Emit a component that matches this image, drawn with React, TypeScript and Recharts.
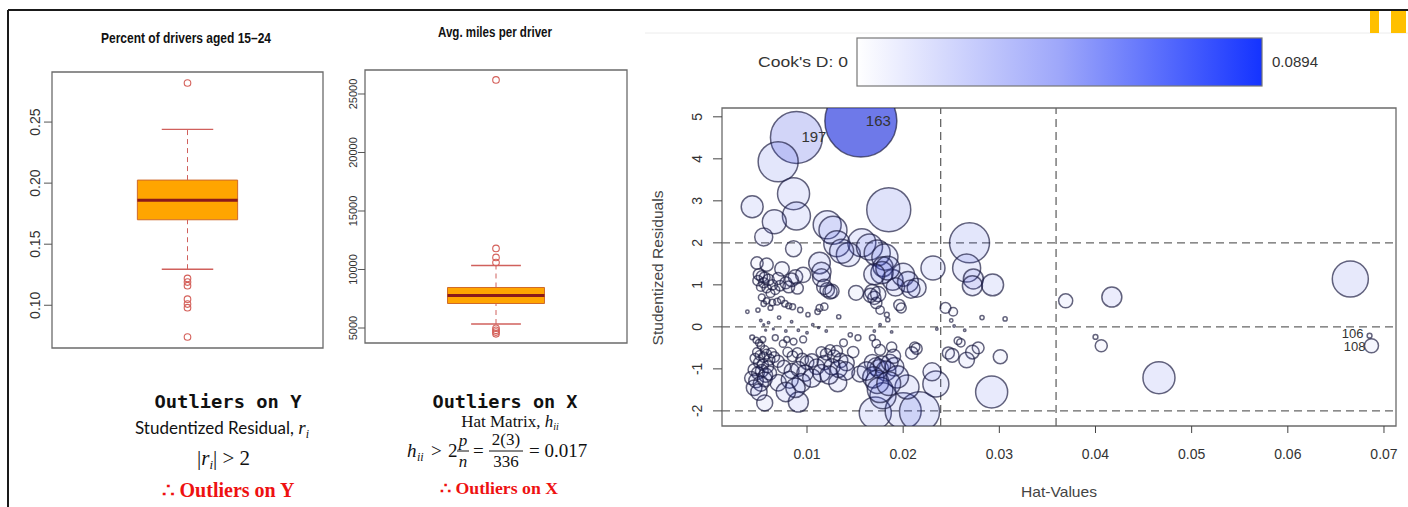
import React from 'react';
import {
  ScatterChart,
  Scatter,
  XAxis,
  YAxis,
  ZAxis,
  ReferenceArea,
  ReferenceLine,
} from 'recharts';

// box plot: percent of drivers aged 15-24  (lower whisker, Q1, median, Q3, upper whisker)
const youngBox = [0.1295, 0.17, 0.186, 0.2025, 0.244];
const youngOutliers = [0.282, 0.122, 0.119, 0.116, 0.105, 0.101, 0.098, 0.074];
const youngTicks = [0.1, 0.15, 0.2, 0.25];

// box plot: avg. miles per driver
const milesBox = [5340, 7094, 7778, 8462, 10340];
const milesOutliers = [26200, 11800, 11030, 10600, 4980, 4800, 4650, 4500];
const milesTicks = [5000, 10000, 15000, 20000, 25000];

// influence plot
const hatTicks = [0.01, 0.02, 0.03, 0.04, 0.05, 0.06, 0.07];
const residTicks = [-2, -1, 0, 1, 2, 3, 4, 5];
const residCutoffs = [-2, 0, 2];
const hatCutoffs = [0.0239, 0.0359];
const cookMax = 0.0894;
const leftLabels = ['106', '108'];

// [hat value, studentized residual, cook's D, label]
const influence: any[] = [
  [0.0156, 4.9, 0.0894, '163'],
  [0.0089, 4.51, 0.0466, '197'],
  [0.007, 3.93, 0.0276],
  [0.0086, 3.17, 0.0177],
  [0.0089, 2.64, 0.0135],
  [0.0043, 2.86, 0.0083],
  [0.0066, 2.5, 0.0099],
  [0.0055, 2.14, 0.0056],
  [0.0086, 1.86, 0.0044],
  [0.0185, 2.79, 0.0334],
  [0.0121, 2.43, 0.0135],
  [0.0127, 2.3, 0.0135],
  [0.0131, 1.98, 0.0117],
  [0.0157, 2.0, 0.0135],
  [0.0143, 1.72, 0.0099],
  [0.0136, 1.8, 0.0099],
  [0.0165, 1.9, 0.0117],
  [0.0173, 1.76, 0.0117],
  [0.0181, 1.66, 0.0117],
  [0.0179, 1.43, 0.0069],
  [0.0231, 1.4, 0.0099],
  [0.0269, 2.0, 0.0276],
  [0.0266, 1.4, 0.0135],
  [0.0273, 1.14, 0.0069],
  [0.0272, 0.98, 0.0069],
  [0.0293, 1.0, 0.0083],
  [0.0665, 1.14, 0.0224],
  [0.0369, 0.62, 0.0034],
  [0.0417, 0.71, 0.0069],
  [0.04, -0.24, 0.0004],
  [0.0406, -0.45, 0.0025],
  [0.0466, -1.21, 0.0177],
  [0.0685, -0.21, 0.0004, '106'],
  [0.0687, -0.45, 0.0034, '108'],
  [0.0171, -2.05, 0.0177],
  [0.02, -2.0, 0.0224],
  [0.0217, -2.02, 0.0276],
  [0.0179, -1.64, 0.0117],
  [0.0204, -1.43, 0.0099],
  [0.0234, -1.36, 0.0117],
  [0.023, -1.07, 0.0056],
  [0.0292, -1.55, 0.0177],
  [0.0056, -1.81, 0.0044],
  [0.0091, -1.79, 0.0069],
  [0.0132, -1.33, 0.0056],
  [0.0155, -1.12, 0.0044],
  [0.0301, -0.71, 0.0034],
  [0.0247, -0.62, 0.0025],
  // upper cluster, small hat values
  [0.0048, 1.52, 0.0026],
  [0.0058, 1.48, 0.003],
  [0.0074, 1.38, 0.0036],
  [0.005, 1.25, 0.0022],
  [0.0053, 1.2, 0.0022],
  [0.0056, 1.18, 0.002],
  [0.0049, 1.1, 0.0018],
  [0.0055, 1.05, 0.0018],
  [0.006, 1.12, 0.0022],
  [0.0064, 1.0, 0.0018],
  [0.0052, 0.95, 0.0013],
  [0.0058, 0.92, 0.0014],
  [0.0067, 0.88, 0.0014],
  [0.0072, 0.98, 0.0019],
  [0.007, 1.15, 0.0025],
  [0.0062, 0.8, 0.0013],
  [0.0078, 1.05, 0.0024],
  [0.0053, 0.7, 0.0008],
  [0.0058, 0.62, 0.0007],
  [0.0064, 0.58, 0.0007],
  [0.0069, 0.6, 0.0008],
  [0.0073, 0.64, 0.0008],
  [0.0077, 0.55, 0.0007],
  [0.0055, 0.55, 0.0005],
  [0.0081, 0.5, 0.0006],
  [0.0085, 0.48, 0.0006],
  [0.0062, 0.45, 0.0004],
  [0.0049, 0.4, 0.0003],
  [0.0038, 0.36, 0.0002],
  [0.0088, 1.19, 0.0036],
  [0.0096, 1.24, 0.004],
  [0.0084, 1.12, 0.0032],
  [0.0081, 0.95, 0.0024],
  [0.009, 0.92, 0.0024],
  [0.0093, 0.4, 0.0005],
  [0.0101, 0.29, 0.0003],
  [0.0111, 0.36, 0.0005],
  [0.0118, 0.48, 0.0009],
  [0.0113, 0.45, 0.0008],
  // around zero
  [0.0052, 0.15, 0.0001],
  [0.0055, 0.05, 0.00005],
  [0.0057, -0.08, 0.00005],
  [0.006, 0.1, 0.0001],
  [0.0065, -0.05, 0.00005],
  [0.0071, 0.22, 0.0002],
  [0.0078, -0.1, 0.0001],
  [0.0084, 0.12, 0.0001],
  [0.0091, -0.08, 0.0001],
  [0.01, -0.14, 0.0001],
  [0.0106, 0.05, 0.0001],
  [0.0112, -0.02, 0.00005],
  [0.012, -0.1, 0.0001],
  [0.0133, 0.24, 0.0003],
  [0.017, -0.1, 0.0001],
  [0.0176, 0.05, 0.0001],
  [0.0183, 0.29, 0.0004],
  [0.0184, 0.17, 0.0003],
  [0.0188, -0.12, 0.0001],
  [0.0235, -0.05, 0.0001],
  [0.025, 0.15, 0.0002],
  [0.0253, 0.02, 0.0001],
  [0.0282, 0.22, 0.0003],
  [0.0306, 0.19, 0.0003],
  [0.0264, -0.08, 0.0001],
  // lower cluster, small hat values
  [0.0043, -0.25, 0.0004],
  [0.0047, -0.32, 0.0006],
  [0.005, -0.38, 0.0008],
  [0.0052, -0.45, 0.0009],
  [0.0054, -0.3, 0.0006],
  [0.0056, -0.55, 0.0012],
  [0.0048, -0.6, 0.0013],
  [0.0051, -0.68, 0.0016],
  [0.0055, -0.72, 0.0018],
  [0.0058, -0.65, 0.0016],
  [0.0061, -0.78, 0.002],
  [0.0046, -0.75, 0.0017],
  [0.005, -0.85, 0.002],
  [0.0054, -0.9, 0.0022],
  [0.0059, -0.95, 0.0025],
  [0.0063, -0.62, 0.0016],
  [0.0067, -0.26, 0.0006],
  [0.0066, -0.72, 0.0019],
  [0.007, -0.82, 0.0025],
  [0.0045, -1.02, 0.0025],
  [0.0049, -1.1, 0.0028],
  [0.0053, -1.05, 0.0028],
  [0.0057, -1.15, 0.0034],
  [0.0042, -1.22, 0.003],
  [0.0047, -1.28, 0.0036],
  [0.0052, -1.35, 0.004],
  [0.0056, -1.25, 0.0038],
  [0.0061, -1.1, 0.0034],
  [0.0045, -1.45, 0.0042],
  [0.005, -1.55, 0.0046],
  [0.0075, -0.4, 0.0009],
  [0.0079, -0.3, 0.0006],
  [0.0086, -0.35, 0.0008],
  [0.0096, -0.3, 0.0008],
  [0.008, -0.6, 0.0016],
  [0.0085, -0.7, 0.002],
  [0.009, -0.62, 0.0018],
  [0.0095, -0.78, 0.0027],
  [0.01, -0.85, 0.0032],
  [0.0105, -0.8, 0.0031],
  [0.011, -0.95, 0.0042],
  [0.0076, -0.95, 0.003],
  [0.0084, -1.05, 0.0038],
  [0.0091, -1.0, 0.0038],
  [0.0098, -1.1, 0.0046],
  [0.007, -1.33, 0.0046],
  [0.0082, -1.26, 0.005],
  [0.0094, -1.33, 0.006],
  [0.0105, -1.22, 0.0058],
  [0.0088, -1.45, 0.0065],
  [0.0078, -1.55, 0.0065],
  // middle columns
  [0.0115, -0.6, 0.002],
  [0.012, -0.65, 0.0023],
  [0.0124, -0.55, 0.0018],
  [0.0128, -0.7, 0.0028],
  [0.0131, -0.58, 0.0022],
  [0.0135, -0.8, 0.0035],
  [0.0138, -0.38, 0.001],
  [0.0141, -0.86, 0.0042],
  [0.0118, -0.85, 0.0035],
  [0.0126, -0.95, 0.0045],
  [0.0133, -1.0, 0.005],
  [0.014, -1.05, 0.0058],
  [0.0115, -1.1, 0.0052],
  [0.0123, -1.15, 0.0058],
  [0.0145, -0.19, 0.0003],
  [0.0153, -0.26, 0.0006],
  [0.0148, -0.6, 0.0022],
  [0.0168, -0.26, 0.0006],
  [0.0172, -0.4, 0.0012],
  [0.0176, -0.55, 0.002],
  [0.0188, -0.48, 0.0018],
  [0.0168, -0.85, 0.0045],
  [0.0172, -0.95, 0.0055],
  [0.0175, -1.0, 0.006],
  [0.0178, -0.9, 0.0052],
  [0.0182, -1.05, 0.0068],
  [0.0186, -0.85, 0.0048],
  [0.0191, -0.95, 0.006],
  [0.0194, -1.19, 0.0085],
  [0.0169, -1.2, 0.0078],
  [0.0173, -1.31, 0.0092],
  [0.0176, -1.5, 0.0112],
  [0.0185, -1.35, 0.0098],
  [0.019, -0.7, 0.0034],
  [0.0162, -1.05, 0.006],
  [0.0212, -0.48, 0.0018],
  [0.0214, -0.52, 0.0021],
  [0.0209, -0.62, 0.0027],
  [0.0251, -0.68, 0.0032],
  [0.0257, -0.33, 0.001],
  [0.026, -0.38, 0.0012],
  [0.0272, -0.6, 0.0032],
  [0.0266, -0.79, 0.0042],
  [0.0278, -0.5, 0.0024],
  [0.0168, 0.83, 0.004],
  [0.017, 0.69, 0.003],
  [0.0172, 0.57, 0.0022],
  [0.0166, 0.75, 0.0034],
  [0.0174, 0.78, 0.004],
  [0.0196, 0.52, 0.0021],
  [0.0198, 0.45, 0.0017],
  [0.0176, 0.4, 0.0012],
  [0.0189, 1.12, 0.0075],
  [0.02, 1.24, 0.009],
  [0.0205, 1.07, 0.0075],
  [0.0214, 0.93, 0.0062],
  [0.0178, 1.29, 0.0085],
  [0.0184, 1.4, 0.0098],
  [0.017, 1.25, 0.0076],
  [0.0192, 0.95, 0.0058],
  [0.0208, 0.9, 0.0058],
  [0.0113, 1.52, 0.008],
  [0.0115, 1.31, 0.0064],
  [0.0115, 1.17, 0.0054],
  [0.0121, 0.88, 0.0036],
  [0.0124, 0.83, 0.0034],
  [0.0151, 0.81, 0.0038],
  [0.0126, 0.85, 0.0034],
  [0.0118, 0.95, 0.004],
  [0.0244, 0.45, 0.002],
  [0.0252, 0.36, 0.0013],
];

const points = influence.map(([hat, rstudent, cookd, id]) => ({ hat, rstudent, cookd, id }));
const labelled = points.filter((p) => p.id);

const sans = '"Liberation Sans", Arial, sans-serif';
const serif = '"Liberation Serif", "DejaVu Serif", serif';
const mono = '"DejaVu Sans Mono", monospace';

const RotTick = ({ x, y, payload, shift, size, fmt }: any) => (
  <text
    x={x + shift}
    y={y}
    transform={`rotate(-90 ${x + shift} ${y})`}
    textAnchor="middle"
    fontSize={size}
    fill="#333"
    fontFamily={sans}
  >
    {fmt(payload.value)}
  </text>
);

const OpenCircle = ({ cx, cy }: any) => (
  <circle cx={cx} cy={cy} r={3.3} fill="none" stroke="#d4605a" strokeWidth={1.1} />
);

const Bubble = (p: any) => {
  const r = p.width ? p.width / 2 : Math.sqrt(Math.max(p.size || 0, 0) / Math.PI);
  const t = p.payload.cookd / cookMax;
  const a = 0.1 * Math.min(1, t / 0.08) + 0.6 * Math.pow(t, 2.5);
  return (
    <circle
      cx={p.cx}
      cy={p.cy}
      r={Math.max(r, 0.9)}
      fill="#3040e0"
      fillOpacity={a}
      stroke="#1a1a40"
      strokeOpacity={0.68}
      strokeWidth={1.5}
    />
  );
};

const PointLabel = (p: any) => {
  const id = p.payload.id;
  const left = leftLabels.includes(id);
  return (
    <text
      x={left ? p.cx - 6 : p.cx + 5}
      y={p.cy + (id === '106' ? 2 : 5)}
      textAnchor={left ? 'end' : 'start'}
      fontSize={left ? 13 : 15}
      fill="#333"
      fontFamily={sans}
    >
      {id}
    </text>
  );
};

const BoxPlot = ({ box, outliers, ticks, domain, fmt, size, shift, tickSize, width, height, margin }: any) => {
  const [lo, q1, med, q3, hi] = box;
  const pts = outliers.map((v: number) => ({ x: 0.5, y: v }));
  const red = '#d0605c';
  return (
    <ScatterChart width={width} height={height} margin={margin}>
      <XAxis type="number" dataKey="x" domain={[0, 1]} hide />
      <YAxis
        type="number"
        dataKey="y"
        domain={domain}
        ticks={ticks}
        interval={0}
        width={30}
        axisLine={false}
        tickSize={tickSize}
        tickLine={{ stroke: '#555' }}
        tick={(p: any) => <RotTick {...p} shift={shift} size={size} fmt={fmt} />}
      />
      <ReferenceLine segment={[{ x: 0.5, y: q3 }, { x: 0.5, y: hi }]} stroke={red} strokeDasharray="5 4" />
      <ReferenceLine segment={[{ x: 0.5, y: lo }, { x: 0.5, y: q1 }]} stroke={red} strokeDasharray="5 4" />
      <ReferenceLine segment={[{ x: 0.405, y: hi }, { x: 0.595, y: hi }]} stroke={red} strokeWidth={1.3} />
      <ReferenceLine segment={[{ x: 0.405, y: lo }, { x: 0.595, y: lo }]} stroke={red} strokeWidth={1.3} />
      <ReferenceArea x1={0.315} x2={0.685} y1={q1} y2={q3} fill="#ffa500" fillOpacity={1} stroke="#cf6a2a" strokeWidth={1} />
      <ReferenceLine segment={[{ x: 0.315, y: med }, { x: 0.685, y: med }]} stroke="#8b1a1a" strokeWidth={3} />
      <Scatter data={pts} shape={OpenCircle} isAnimationActive={false} />
      <ReferenceArea
        x1={0}
        x2={1}
        y1={domain[0]}
        y2={domain[1]}
        fill="none"
        stroke="#6b6b6b"
        strokeWidth={1.3}
        ifOverflow="visible"
      />
    </ScatterChart>
  );
};

const InfluencePlot = () => (
  <ScatterChart width={768} height={407} margin={{ top: 8, right: 12, bottom: 31, left: 12 }}>
    <XAxis
      type="number"
      dataKey="hat"
      domain={[0.00116, 0.07125]}
      ticks={hatTicks}
      interval={0}
      allowDataOverflow
      height={50}
      axisLine={false}
      tickSize={7}
      tickMargin={16}
      tickLine={{ stroke: '#444' }}
      tick={{ fontSize: 14, fill: '#333', fontFamily: sans }}
      tickFormatter={(v: number) => v.toFixed(2)}
    />
    <YAxis
      type="number"
      dataKey="rstudent"
      domain={[-2.36, 5.21]}
      ticks={residTicks}
      interval={0}
      allowDataOverflow
      width={70}
      axisLine={false}
      tickSize={9}
      tickLine={{ stroke: '#444' }}
      tick={(p: any) => <RotTick {...p} shift={-9} size={14} fmt={(v: number) => String(v)} />}
    />
    <ZAxis type="number" dataKey="cookd" domain={[0, cookMax]} range={[0, Math.PI * 36 * 36]} />
    {residCutoffs.map((v) => (
      <ReferenceLine key={'r' + v} y={v} stroke="#666" strokeWidth={1.3} strokeDasharray="8 5" />
    ))}
    {hatCutoffs.map((v) => (
      <ReferenceLine key={'h' + v} x={v} stroke="#666" strokeWidth={1.3} strokeDasharray="8 5" />
    ))}
    <Scatter data={points} shape={Bubble} isAnimationActive={false} />
    <Scatter data={labelled} shape={PointLabel} isAnimationActive={false} />
    <ReferenceArea
      x1={0.00116}
      x2={0.07125}
      y1={-2.36}
      y2={5.21}
      fill="none"
      stroke="#6b6b6b"
      strokeWidth={1.3}
      ifOverflow="visible"
    />
  </ScatterChart>
);

const App = () => (
  <div style={{ position: 'absolute', left: 0, top: 0, width: 1408, height: 507, background: '#fff', fontFamily: sans }}>
    <div style={{ position: 'absolute', left: 0, top: 0 }}>
      <BoxPlot
        box={youngBox}
        outliers={youngOutliers}
        ticks={youngTicks}
        domain={[0.065, 0.291]}
        fmt={(v: number) => v.toFixed(2)}
        size={14}
        shift={-2}
        tickSize={8}
        width={330}
        height={360}
        margin={{ top: 72, right: 7, bottom: 12, left: 22 }}
      />
    </div>
    <div style={{ position: 'absolute', left: 320, top: 0 }}>
      <BoxPlot
        box={milesBox}
        outliers={milesOutliers}
        ticks={milesTicks}
        domain={[3718, 27051]}
        fmt={(v: number) => String(v)}
        size={11}
        shift={1}
        tickSize={7}
        width={320}
        height={360}
        margin={{ top: 70, right: 13, bottom: 17, left: 15 }}
      />
    </div>
    <div style={{ position: 'absolute', left: 640, top: 100 }}>
      <InfluencePlot />
    </div>
    <svg width={1408} height={507} style={{ position: 'absolute', left: 0, top: 0, pointerEvents: 'none' }}>
      <defs>
        <linearGradient id="cookGrad" x1="0" x2="1" y1="0" y2="0">
          <stop offset="0" stopColor="#ffffff" />
          <stop offset="0.5" stopColor="#9ea7fa" />
          <stop offset="1" stopColor="#1433ff" />
        </linearGradient>
      </defs>
      <line x1={8} y1={10} x2={1408} y2={10} stroke="#1a1a1a" strokeWidth={2} />
      <line x1={8} y1={10} x2={8} y2={507} stroke="#1a1a1a" strokeWidth={2} />
      <line x1={645} y1={33} x2={1408} y2={33} stroke="#ececec" strokeWidth={1} />
      <rect x={1370} y={11} width={9} height={22} fill="#ffc000" />
      <rect x={1391} y={11} width={15} height={22} fill="#ffc000" />

      <text x={186} y={43} textAnchor="middle" fontFamily={sans} fontWeight="bold" fontSize={14} textLength={170} lengthAdjust="spacingAndGlyphs" fill="#111">
        Percent of drivers aged 15–24
      </text>
      <text x={495} y={37} textAnchor="middle" fontFamily={sans} fontWeight="bold" fontSize={14} textLength={114} lengthAdjust="spacingAndGlyphs" fill="#111">
        Avg. miles per driver
      </text>

      <rect x={857} y={38} width={405} height={48} fill="url(#cookGrad)" stroke="#777" strokeWidth={1.2} />
      <text x={848} y={67} textAnchor="end" fontFamily={sans} fontSize={14} textLength={90} lengthAdjust="spacingAndGlyphs" fill="#333">
        Cook's D: 0
      </text>
      <text x={1272} y={67} fontFamily={sans} fontSize={14} textLength={46} lengthAdjust="spacingAndGlyphs" fill="#333">
        0.0894
      </text>

      <text x={663} y={268} transform="rotate(-90 663 268)" textAnchor="middle" fontFamily={sans} fontSize={15} textLength={155} lengthAdjust="spacingAndGlyphs" fill="#444">
        Studentized Residuals
      </text>
      <text x={1021} y={497} fontFamily={sans} fontSize={15} textLength={76} lengthAdjust="spacingAndGlyphs" fill="#444">
        Hat-Values
      </text>

      <text x={228} y={408} textAnchor="middle" fontFamily={mono} fontWeight="bold" fontSize={18} textLength={147} lengthAdjust="spacingAndGlyphs" fill="#111">
        Outliers on Y
      </text>
      <text x={222} y={434} textAnchor="middle" fontFamily="Lato, sans-serif" fontSize={17} fill="#111">
        Studentized Residual,{' '}
        <tspan fontFamily={serif} fontStyle="italic" fontSize={19}>r</tspan>
        <tspan fontFamily={serif} fontStyle="italic" fontSize={12} dy={4}>i</tspan>
      </text>
      <text x={197} y={465} fontFamily={serif} fontSize={21} fill="#111">
        |<tspan fontStyle="italic">r</tspan>
        <tspan fontStyle="italic" fontSize={13} dy={4}>i</tspan>
        <tspan dy={-4}>| &gt; 2</tspan>
      </text>
      <text x={228} y={497} textAnchor="middle" fontFamily={serif} fontWeight="bold" fontSize={20} textLength={133} lengthAdjust="spacingAndGlyphs" fill="#ee1111">
        ∴ Outliers on Y
      </text>

      <text x={505} y={408} textAnchor="middle" fontFamily={mono} fontWeight="bold" fontSize={18} textLength={145} lengthAdjust="spacingAndGlyphs" fill="#111">
        Outliers on X
      </text>
      <text x={510} y={427} textAnchor="middle" fontFamily={serif} fontSize={17} fill="#111">
        Hat Matrix,{' '}
        <tspan fontStyle="italic">h</tspan>
        <tspan fontStyle="italic" fontSize={10} dy={3}>ii</tspan>
      </text>

      <g fontFamily={serif} fill="#111">
        <text x={407} y={457} fontStyle="italic" fontSize={19}>h</text>
        <text x={417} y={461} fontStyle="italic" fontSize={12}>ii</text>
        <text x={431} y={457} fontSize={19}>&gt;</text>
        <text x={448} y={457} fontSize={19}>2</text>
        <text x={463} y={446} textAnchor="middle" fontStyle="italic" fontSize={17}>p</text>
        <line x1={457} y1={451} x2={469} y2={451} stroke="#111" strokeWidth={1} />
        <text x={463} y={467} textAnchor="middle" fontStyle="italic" fontSize={17}>n</text>
        <text x={473} y={457} fontSize={19}>=</text>
        <text x={506} y={445} textAnchor="middle" fontSize={17}>2(3)</text>
        <line x1={489} y1={451} x2={523} y2={451} stroke="#111" strokeWidth={1} />
        <text x={506} y={467} textAnchor="middle" fontSize={17}>336</text>
        <text x={529} y={457} fontSize={19}>= 0.017</text>
      </g>
      <text x={499} y={494} textAnchor="middle" fontFamily={serif} fontWeight="bold" fontSize={16} textLength={118} lengthAdjust="spacingAndGlyphs" fill="#ee1111">
        ∴ Outliers on X
      </text>
    </svg>
  </div>
);

export default App;
